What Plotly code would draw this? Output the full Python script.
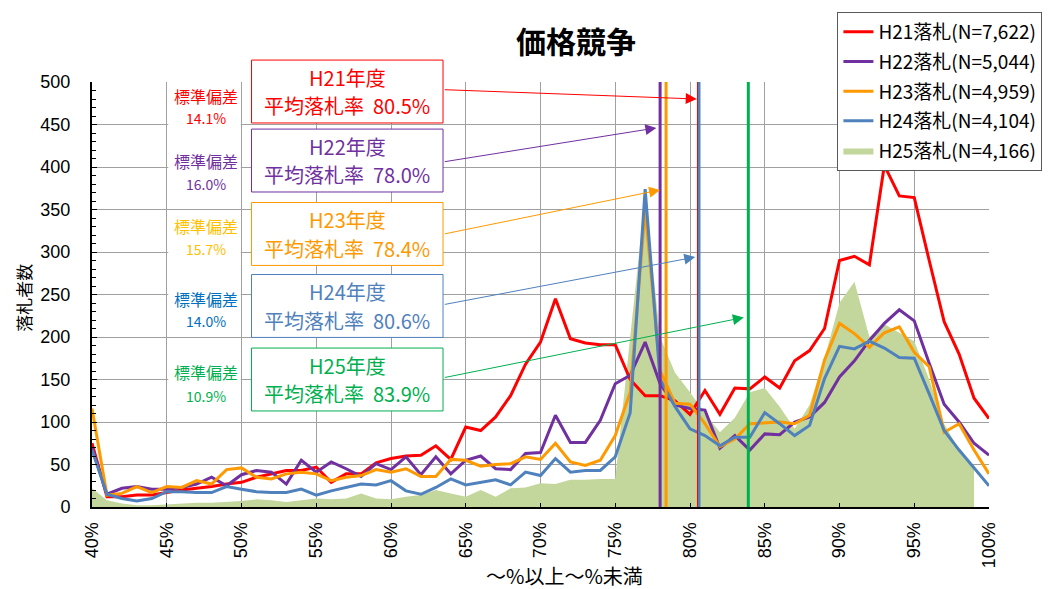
import plotly.graph_objects as go

# Bid-rate bins (lower bound, %), one per 1% step
pct = list(range(40, 101))

# Number of winning bids per bin, by fiscal year
h21 = [75, 12, 12, 14, 14, 17, 20, 22, 24, 27,
       29, 35, 39, 43, 43, 47, 29, 39, 39, 52,
       57, 60, 61, 72, 56, 94, 90, 106, 131, 168,
       194, 245, 198, 193, 191, 191, 150, 131, 131, 125,
       109, 137, 109, 140, 139, 153, 140, 172, 184, 210,
       290, 295, 285, 402, 366, 364, 290, 218, 180, 128,
       104]
h22 = [70, 15, 22, 24, 21, 21, 23, 27, 35, 25,
       38, 43, 41, 27, 55, 41, 53, 45, 36, 51,
       44, 59, 38, 59, 39, 55, 60, 45, 44, 63,
       64, 108, 76, 76, 102, 145, 155, 194, 145, 120,
       116, 114, 69, 84, 67, 86, 85, 100, 106, 123,
       153, 172, 196, 216, 232, 219, 169, 121, 100, 75,
       61]
h23 = [116, 14, 16, 24, 17, 24, 23, 31, 27, 44,
       46, 35, 33, 39, 41, 39, 31, 35, 37, 44,
       41, 45, 36, 36, 56, 55, 48, 50, 51, 59,
       56, 75, 53, 49, 55, 84, 135, 350, 160, 122,
       121, 98, 71, 80, 98, 99, 100, 98, 108, 173,
       216, 204, 188, 205, 212, 182, 165, 88, 98, 67,
       39]
h24 = [67, 15, 10, 7, 10, 18, 18, 17, 17, 24,
       21, 18, 17, 17, 21, 14, 19, 23, 27, 26,
       31, 19, 15, 23, 33, 26, 29, 32, 26, 41,
       37, 57, 41, 43, 43, 59, 111, 374, 150, 118,
       92, 84, 72, 82, 82, 111, 98, 84, 96, 151,
       189, 186, 195, 187, 176, 175, 133, 90, 67, 46,
       25]
# H25 has no entry for the 100% bin
h25 = [22, 8, 4, 2, 2, 3, 4, 5, 5, 6,
       7, 9, 8, 6, 8, 10, 9, 10, 16, 10,
       9, 12, 14, 20, 16, 12, 20, 12, 22, 23,
       28, 27, 32, 32, 33, 33, 200, 365, 200, 158,
       135, 110, 88, 105, 135, 140, 118, 92, 120, 175,
       240, 265, 200, 215, 205, 195, 150, 98, 67, 45]

years = ["H21", "H22", "H23", "H24", "H25"]
counts = ["7,622", "5,044", "4,959", "4,104", "4,166"]
mean_rate = [80.5, 78.0, 78.4, 80.6, 83.9]
std_dev = [14.1, 16.0, 15.7, 14.0, 10.9]
series = [h21, h22, h23, h24, h25]

# styling
line_color = ["#FF0000", "#7030A0", "#FF9900", "#4F81BD", "#00B050"]
std_color = ["#FF0000", "#7030A0", "#FFC000", "#0070C0", "#00B050"]
area_color = "#C3D69B"
mean_width = [1, 3, 3, 3, 3]
jp = "Noto Sans CJK JP"
num = "Liberation Sans"
y_top = 500

fig = go.Figure()

# H25 drawn as a filled area underneath the lines
fig.add_trace(go.Scatter(
    x=pct[:len(h25)], y=h25, mode="lines", fill="tozeroy",
    fillcolor=area_color, line=dict(width=0, color=area_color),
    name=f"H25落札(N={counts[4]})", legendrank=5, legendgroup="g5",
    hoverinfo="skip"))

for k in range(4):
    fig.add_trace(go.Scatter(
        x=pct, y=series[k], mode="lines",
        line=dict(color=line_color[k], width=3),
        name=f"{years[k]}落札(N={counts[k]})", legendrank=k + 1,
        legendgroup=f"g{k+1}"))

# vertical markers at each year's mean bid rate (thin H21 line on top)
for k in [1, 2, 3, 0, 4]:
    fig.add_trace(go.Scatter(
        x=[mean_rate[k], mean_rate[k]], y=[0, y_top], mode="lines",
        line=dict(color=line_color[k], width=mean_width[k]),
        showlegend=False, hoverinfo="skip"))

# callout layout: x in axis units, heights in axis units (0-500)
box_x0, box_x1 = 50.67, 63.48
box_mid = [488.8, 407.6, 321.2, 236.5, 150.0]
box_half = 37.0
line_off = 16.5
std_x0, std_x1 = 45.1, 49.95
std_x = 47.6
std_line1 = [483.5, 407.0, 330.5, 244.6, 158.7]
std_line2 = [457.7, 380.1, 303.6, 218.9, 130.7]
arrow_tail_x = 63.5
arrow_tail_y = [491, 406, 321, 238, 152]
arrow_tip_x = [80.45, 77.75, 78.0, 80.35, 83.6]
arrow_tip_y = [480, 446, 373, 294, 223]


def py(v):
    """Axis value -> paper fraction, so callouts may rise above the plot."""
    return v / y_top


shapes = []
annotations = []
for k in range(5):
    c = line_color[k]
    shapes.append(dict(
        type="rect", xref="x", yref="paper", layer="above",
        x0=box_x0, x1=box_x1,
        y0=py(box_mid[k] - box_half), y1=py(box_mid[k] + box_half),
        fillcolor="white", line=dict(color=c, width=1)))
    shapes.append(dict(
        type="rect", xref="x", yref="paper", layer="above",
        x0=std_x0, x1=std_x1,
        y0=py(std_line2[k] - 13), y1=py(std_line1[k] + 13),
        fillcolor="white", line=dict(width=0)))
    annotations.append(dict(
        x=arrow_tip_x[k], y=arrow_tip_y[k], xref="x", yref="y",
        ax=arrow_tail_x, ay=arrow_tail_y[k], axref="x", ayref="y",
        text="", showarrow=True, arrowhead=2, arrowsize=2.2,
        arrowwidth=1, arrowcolor=c, standoff=0))
    annotations.append(dict(
        x=(box_x0 + box_x1) / 2, y=py(box_mid[k] + line_off),
        xref="x", yref="paper", xanchor="center", yanchor="middle",
        showarrow=False, text=f"{years[k]}年度",
        font=dict(family=jp, size=20, color=c)))
    annotations.append(dict(
        x=(box_x0 + box_x1) / 2, y=py(box_mid[k] - line_off),
        xref="x", yref="paper", xanchor="center", yanchor="middle",
        showarrow=False,
        text=f"平均落札率\u00a0\u00a0{mean_rate[k]:.1f}%",
        font=dict(family=jp, size=20, color=c)))
    annotations.append(dict(
        x=std_x, y=py(std_line1[k]), xref="x", yref="paper",
        xanchor="center", yanchor="middle", showarrow=False,
        text="標準偏差", font=dict(family=jp, size=16, color=std_color[k])))
    annotations.append(dict(
        x=std_x, y=py(std_line2[k]), xref="x", yref="paper",
        xanchor="center", yanchor="middle", showarrow=False,
        text=f"{std_dev[k]:.1f}%",
        font=dict(family=jp, size=14, color=std_color[k])))

# axis titles
annotations.append(dict(
    x=-0.076, y=0.492, xref="paper", yref="paper", showarrow=False,
    text="落札者数", textangle=-90, xanchor="center", yanchor="middle",
    font=dict(family=jp, size=17, color="black")))
annotations.append(dict(
    x=0.527, y=-0.16, xref="paper", yref="paper", showarrow=False,
    text="～%以上～%未満", xanchor="center", yanchor="middle",
    font=dict(family=jp, size=20, color="black")))

tick_pct = list(range(40, 101, 5))

fig.update_layout(
    width=1056, height=589,
    margin=dict(l=92, r=67, t=82, b=82),
    paper_bgcolor="white", plot_bgcolor="white",
    title=dict(text="<b>価格競争</b>", x=0.5455, xanchor="center",
               y=0.927, yanchor="middle",
               font=dict(family=jp, size=30, color="black")),
    showlegend=True,
    legend=dict(x=0.831, y=1.165, xanchor="left", yanchor="top",
                bgcolor="white", bordercolor="#595959", borderwidth=1,
                font=dict(family=jp, size=19, color="black"),
                itemwidth=30, tracegroupgap=2, traceorder="grouped"),
    shapes=shapes,
    annotations=annotations,
    xaxis=dict(range=[40, 100], tickvals=tick_pct,
               ticktext=[f"{v}%" for v in tick_pct], tickangle=-90,
               tickfont=dict(family=num, size=18, color="black"),
               showgrid=True, gridcolor="#A0A0A0", gridwidth=1,
               showline=True, linecolor="black", linewidth=2,
               ticks="inside", ticklen=4, tickcolor="black",
               ticklabelstandoff=6, zeroline=False),
    yaxis=dict(range=[0, y_top], dtick=50,
               tickfont=dict(family=num, size=18, color="black"),
               showgrid=True, gridcolor="#A0A0A0", gridwidth=1,
               showline=True, linecolor="black", linewidth=2,
               ticks="inside", ticklen=5, tickcolor="black",
               minor=dict(dtick=10, ticks="inside", ticklen=4,
                          tickcolor="black", showgrid=False),
               ticklabelstandoff=16, zeroline=False),
)

fig.write_html("out.html")
